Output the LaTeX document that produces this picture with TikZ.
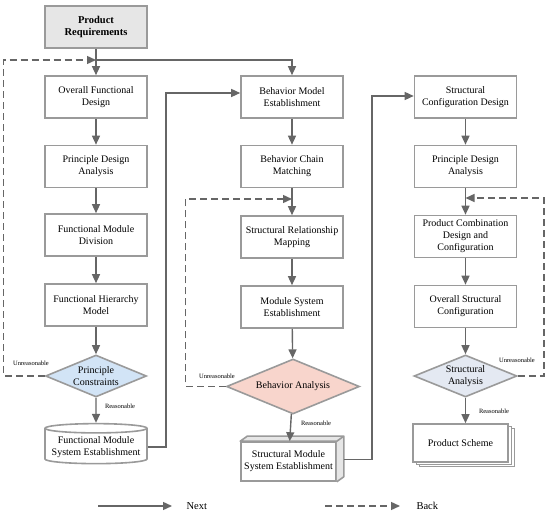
\documentclass[tikz,border=0pt]{standalone}
\usepackage{fontspec}
\setmainfont{Liberation Serif}
\usetikzlibrary{arrows.meta,shapes.geometric,shadows}
\definecolor{linegray}{HTML}{9A9A9A}
\definecolor{arrgray}{HTML}{666666}
\definecolor{reqfill}{HTML}{E6E6E6}
\definecolor{bluefill}{HTML}{D2E4F6}
\definecolor{pinkfill}{HTML}{F8D5CC}
\definecolor{slatefill}{HTML}{E4E9F2}
\tikzset{
  box/.style={draw=linegray, line width=1.6pt, fill=white, minimum width=102pt, minimum height=42pt,
    align=center, inner sep=2pt, font=\fontsize{10}{12}\selectfont},
  decision/.style={diamond, draw=linegray, line width=1.6pt, aspect=2.4, inner sep=0pt,
    align=center, font=\fontsize{10}{12}\selectfont},
  arr/.style={draw=arrgray, line width=1.4pt, -{Triangle[length=9pt,width=8pt]}},
  back/.style={arr, dash pattern=on 7pt off 4pt},
  note/.style={font=\fontsize{6.5}{8}\selectfont, inner sep=0pt},
}
\begin{document}
\begin{tikzpicture}[x=1pt, y=-1pt]
  \useasboundingbox (0,0) rectangle (550,516);

  % column 1
  \node[box, fill=reqfill, font=\fontsize{10.5}{12.5}\selectfont\bfseries] (req) at (96,27) {Product\\Requirements};
  \node[box] (ofd) at (96,97) {Overall Functional\\Design};
  \node[box] (pda1) at (96,166.5) {Principle Design\\Analysis};
  \node[box] (fmd) at (96,235) {Functional Module\\Division};
  \node[box] (fhm) at (96,305) {Functional Hierarchy\\Model};
  \node[decision, fill=bluefill, minimum width=101pt, minimum height=42pt] (pc) at (96,376) {Principle\\Constraints};
  \node[box, cylinder, shape border rotate=90, aspect=0.1, minimum height=40pt, minimum width=102pt] (fmse) at (96,447)
    {Functional Module\\System Establishment};

  % column 2
  \node[box] (bme) at (292,97) {Behavior Model\\Establishment};
  \node[box] (bcm) at (292,166.5) {Behavior Chain\\Matching};
  \node[box] (srm) at (292,237) {Structural Relationship\\Mapping};
  \node[box] (mse) at (292,307) {Module System\\Establishment};
  \node[decision, fill=pinkfill, minimum width=133pt, minimum height=55pt] (ba) at (293,386.5) {Behavior Analysis};
  \node[box, minimum width=95pt, minimum height=39pt] (smse) at (288.5,461.5) {Structural Module\\System Establishment};
  \draw[linegray, line width=1.6pt, fill=reqfill, line join=round]
    (smse.north west) -- ++(7,-5) -- ([xshift=7pt,yshift=5pt]smse.north east) -- (smse.north east) -- cycle
    (smse.north east) -- ([xshift=7pt,yshift=5pt]smse.north east) -- ([xshift=7pt,yshift=5pt]smse.south east) -- (smse.south east);

  % column 3
  \node[box] (scd) at (465.5,97) {Structural\\Configuration Design};
  \node[box] (pda2) at (465.5,166.5) {Principle Design\\Analysis};
  \node[box] (pcdc) at (465.5,236.5) {Product Combination\\Design and\\Configuration};
  \node[box] (osc) at (465.5,306.5) {Overall Structural\\Configuration};
  \node[decision, fill=slatefill, minimum width=103pt, minimum height=42pt] (sa) at (465.5,376) {Structural\\Analysis};
  \node[box, minimum width=95pt, minimum height=38pt, double copy shadow={shadow xshift=3pt, shadow yshift=-2.5pt,
    draw=linegray, fill=white, line width=1pt}] (ps) at (460.5,443) {Product Scheme};

  % next
  \coordinate (split) at (96,60);
  \draw (req) edge[arr] (ofd);
  \draw[arr] (split) -| (bme.north);
  \draw (ofd) edge[arr] (pda1);
  \draw (pda1) edge[arr] (fmd);
  \draw (fmd) edge[arr] (fhm);
  \draw (fhm) edge[arr] (pc);
  \draw (pc) edge[arr] (fmse);
  \draw[arr] (fmse.east) -- ++(18,0) |- ([yshift=4pt]bme.west);

  \draw (bme) edge[arr] (bcm);
  \draw (bcm) edge[arr] (srm);
  \draw (srm) edge[arr] (mse);
  \draw (mse) edge[arr] (ba);
  \draw (ba) edge[arr] (smse);
  \draw[arr] ([xshift=7pt,yshift=2pt]smse.east) -- ++(28,0) |- ([yshift=1pt]scd.west);

  \draw (scd) edge[arr] (pda2);
  \draw (pda2) edge[arr] (pcdc);
  \draw (pcdc) edge[arr] (osc);
  \draw (osc) edge[arr] (sa);
  \draw (sa) edge[arr] ([xshift=5pt]ps.north);

  % back
  \coordinate (m2) at (292,199);
  \coordinate (m3) at (465.5,198);
  \draw[back] (pc.west) -- ++(-41,0) |- (split);
  \draw[back] (ba.west) -- ++(-40,0) |- (m2);
  \draw[back] (sa.east) -- ++(26,0) |- (m3);

  \node[note] at (31,363) {Unreasonable};
  \node[note] at (217,376) {Unreasonable};
  \node[note] at (517,360) {Unreasonable};
  \node[note] at (120,406) {Reasonable};
  \node[note] at (316,423) {Reasonable};
  \node[note] at (494,411) {Reasonable};

  % legend
  \coordinate (n1) at (98,506);
  \coordinate (n2) at (172,506);
  \coordinate (b1) at (325,506);
  \coordinate (b2) at (400,506);
  \node[font=\fontsize{10.5}{12}\selectfont, anchor=west] (nextlbl) at (183,506) {Next};
  \node[font=\fontsize{10.5}{12}\selectfont, anchor=west] (backlbl) at (413,506) {Back};
  \draw (n1) edge[arr] (n2);
  \draw (b1) edge[back] (b2);
\end{tikzpicture}
\end{document}
